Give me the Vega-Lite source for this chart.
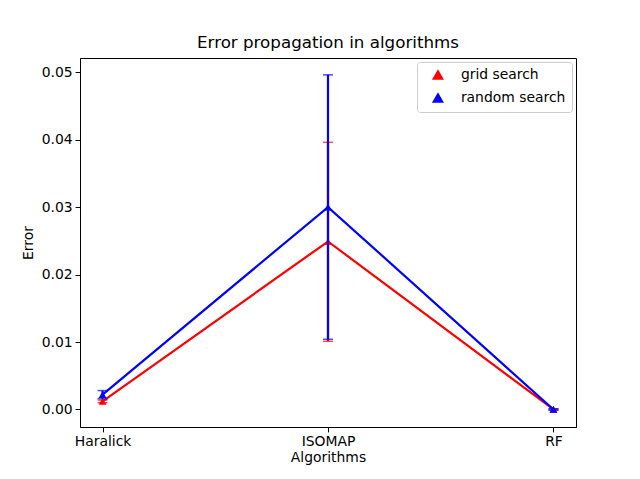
{
  "$schema": "https://vega.github.io/schema/vega-lite/v6.json",
  "width": 496,
  "height": 369,
  "autosize": {"type": "none"},
  "padding": {"left": 80, "top": 58, "right": 64, "bottom": 52},
  "background": "white",
  "title": {"text": "Error propagation in algorithms", "font": "DejaVu Sans", "fontSize": 16.7, "fontWeight": "normal", "color": "black", "offset": 6},
  "config": {
    "view": {"stroke": "black", "strokeWidth": 1},
    "axis": {"labelFont": "DejaVu Sans", "titleFont": "DejaVu Sans", "labelFontSize": 13.9, "titleFontSize": 13.9, "titleFontWeight": "normal", "labelColor": "black", "titleColor": "black", "domainColor": "black", "tickColor": "black", "tickSize": 4.9, "grid": false, "labelPadding": 3},
    "legend": {"labelFont": "DejaVu Sans", "labelFontSize": 13.9, "labelColor": "black"}
  },
  "data": {"values": [
    {"series": "grid search", "algorithm": "Haralick", "value": 0.0012, "lo": 0.0010, "hi": 0.0014},
    {"series": "grid search", "algorithm": "ISOMAP", "value": 0.0249, "lo": 0.0101, "hi": 0.0396},
    {"series": "grid search", "algorithm": "RF", "value": 0.0000, "lo": -0.0001, "hi": 0.0001},
    {"series": "random search", "algorithm": "Haralick", "value": 0.0022, "lo": 0.0016, "hi": 0.0028},
    {"series": "random search", "algorithm": "ISOMAP", "value": 0.0300, "lo": 0.0104, "hi": 0.0496},
    {"series": "random search", "algorithm": "RF", "value": 0.0000, "lo": -0.0001, "hi": 0.0001}
  ]},
  "encoding": {
    "x": {"field": "algorithm", "type": "ordinal", "scale": {"type": "point", "padding": 0.1, "domain": ["Haralick", "ISOMAP", "RF"]}, "axis": {"title": "Algorithms", "labelAngle": 0, "titlePadding": 2}},
    "color": {"field": "series", "type": "nominal", "scale": {"domain": ["grid search", "random search"], "range": ["red", "blue"]}, "legend": {"title": null, "orient": "none", "legendX": 337, "legendY": 4, "symbolType": "triangle-up", "symbolSize": 90, "symbolOpacity": 1, "strokeColor": "#cccccc", "fillColor": "white", "cornerRadius": 3, "padding": 6, "rowPadding": 7, "labelOffset": 16, "symbolOffset": 8}}
  },
  "layer": [
    {"transform": [{"filter": "datum.series == 'grid search'"}], "mark": {"type": "line", "strokeWidth": 2.2}, "encoding": {"y": {"field": "value", "type": "quantitative", "scale": {"domain": [-0.0026, 0.0521], "nice": false, "zero": false}, "axis": {"title": "Error", "values": [0, 0.01, 0.02, 0.03, 0.04, 0.05], "format": ".2f", "titlePadding": 6}}}},
    {"transform": [{"filter": "datum.series == 'grid search'"}], "mark": {"type": "rule", "strokeWidth": 2.2}, "encoding": {"y": {"field": "lo", "type": "quantitative"}, "y2": {"field": "hi"}}},
    {"transform": [{"filter": "datum.series == 'grid search'"}], "mark": {"type": "tick", "size": 10, "thickness": 1.5}, "encoding": {"y": {"field": "lo", "type": "quantitative"}}},
    {"transform": [{"filter": "datum.series == 'grid search'"}], "mark": {"type": "tick", "size": 10, "thickness": 1.5}, "encoding": {"y": {"field": "hi", "type": "quantitative"}}},
    {"transform": [{"filter": "datum.series == 'grid search'"}], "mark": {"type": "point", "shape": "triangle-up", "filled": true, "size": 60, "opacity": 1}, "encoding": {"y": {"field": "value", "type": "quantitative"}}},
    {"transform": [{"filter": "datum.series == 'random search'"}], "mark": {"type": "line", "strokeWidth": 2.2}, "encoding": {"y": {"field": "value", "type": "quantitative"}}},
    {"transform": [{"filter": "datum.series == 'random search'"}], "mark": {"type": "rule", "strokeWidth": 2.2}, "encoding": {"y": {"field": "lo", "type": "quantitative"}, "y2": {"field": "hi"}}},
    {"transform": [{"filter": "datum.series == 'random search'"}], "mark": {"type": "tick", "size": 10, "thickness": 1.5}, "encoding": {"y": {"field": "lo", "type": "quantitative"}}},
    {"transform": [{"filter": "datum.series == 'random search'"}], "mark": {"type": "tick", "size": 10, "thickness": 1.5}, "encoding": {"y": {"field": "hi", "type": "quantitative"}}},
    {"transform": [{"filter": "datum.series == 'random search'"}], "mark": {"type": "point", "shape": "triangle-up", "filled": true, "size": 60, "opacity": 1}, "encoding": {"y": {"field": "value", "type": "quantitative"}}}
  ]
}
